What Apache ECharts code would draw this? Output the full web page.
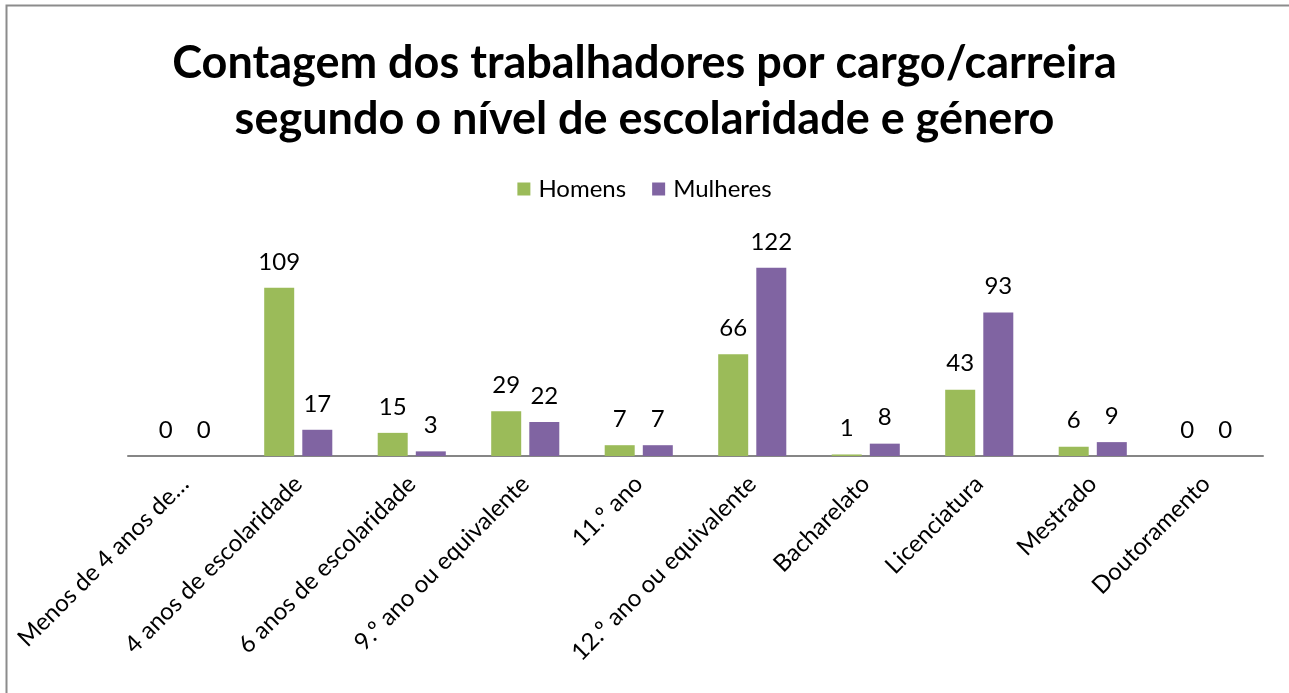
<!DOCTYPE html>
<html>
<head>
<meta charset="utf-8">
<script src="https://cdn.jsdelivr.net/npm/echarts@6/dist/echarts.min.js"></script>
<style>html,body{margin:0;padding:0;background:#fff}#c{width:1289px;height:693px}</style>
</head>
<body>
<div id="c"></div>
<script>
const titleText = 'Contagem dos trabalhadores por cargo/carreira\nsegundo o nível de escolaridade e género';
const categories = ['Menos de 4 anos de…', '4 anos de escolaridade', '6 anos de escolaridade', '9.º ano ou equivalente', '11.º ano', '12.º ano ou equivalente', 'Bacharelato', 'Licenciatura', 'Mestrado', 'Doutoramento'];
const seriesNames = ['Homens', 'Mulheres'];
const homens = [0, 109, 15, 29, 7, 66, 1, 43, 6, 0];
const mulheres = [0, 17, 3, 22, 7, 122, 8, 93, 9, 0];
const yMax = 140;

const FONT = 'Lato';
const chart = echarts.init(document.getElementById('c'));
const labelCfg = {show: true, position: 'top', distance: 14, color: '#000', fontSize: 24, fontFamily: FONT};
chart.setOption({
  animation: false,
  textStyle: {fontFamily: FONT},
  title: {
    text: titleText, left: 'center', top: 30,
    textStyle: {fontSize: 45, fontWeight: 'bold', color: '#000', fontFamily: FONT, lineHeight: 56}
  },
  legend: {
    top: 172, left: 'center', itemWidth: 13, itemHeight: 13, itemGap: 26, icon: 'rect',
    textStyle: {fontSize: 24, color: '#000', fontFamily: FONT, padding: [0, 2, 0, 3]}
  },
  grid: {left: 128, right: 26, top: 240, bottom: 237, containLabel: false},
  xAxis: {
    type: 'category', data: categories,
    axisLine: {lineStyle: {color: '#868686', width: 2}},
    axisTick: {show: false},
    axisLabel: {rotate: 45, interval: 0, margin: 24, fontSize: 24, color: '#000', fontFamily: FONT}
  },
  yAxis: {type: 'value', min: 0, max: yMax, show: false, splitLine: {show: false}},
  series: [
    {name: seriesNames[0], type: 'bar', data: homens, barWidth: 30, barGap: '27%', itemStyle: {color: '#9BBB59'}, label: labelCfg},
    {name: seriesNames[1], type: 'bar', data: mulheres, barWidth: 30, barGap: '27%', itemStyle: {color: '#8064A2'}, label: labelCfg}
  ],
  graphic: [{type: 'rect', shape: {x: 6.5, y: 5.5, width: 1400, height: 800}, style: {fill: 'none', stroke: '#8c8c8c', lineWidth: 2}, silent: true}]
});
</script>
</body>
</html>
